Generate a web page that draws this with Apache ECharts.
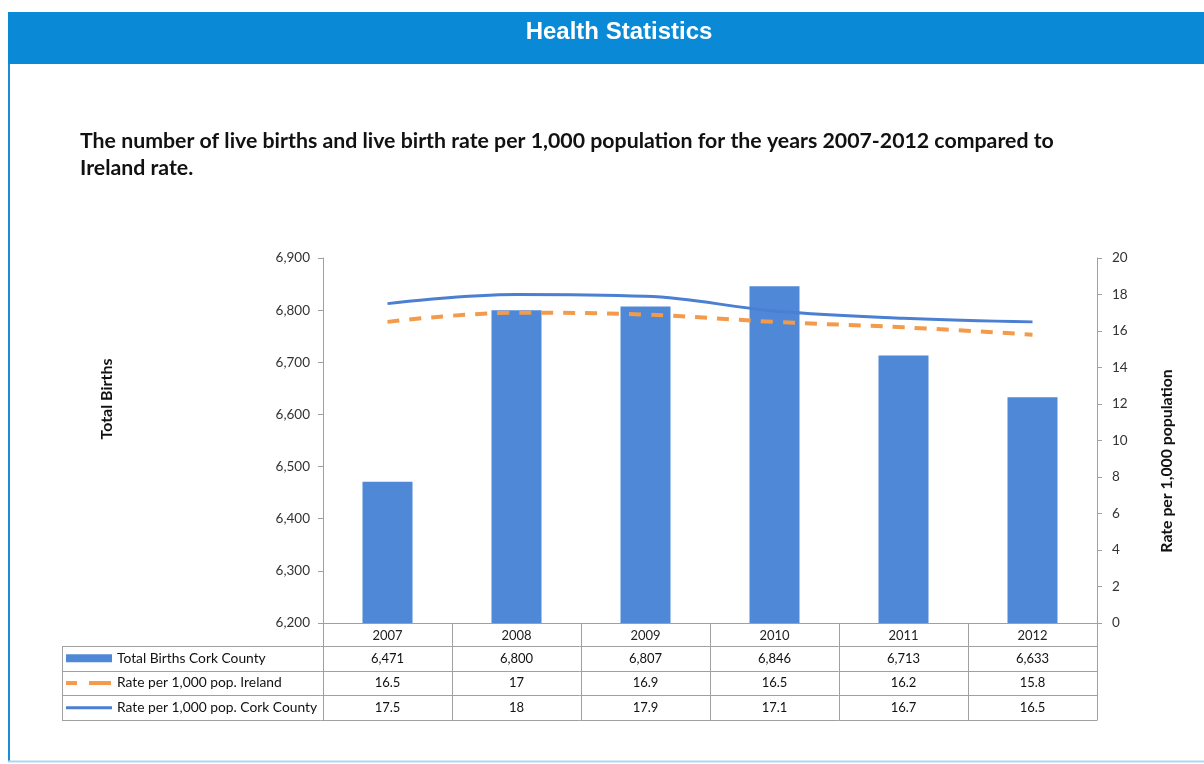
<!DOCTYPE html>
<html>
<head>
<meta charset="utf-8">
<script src="https://cdn.jsdelivr.net/npm/echarts@6/dist/echarts.min.js"></script>
<style>
  html, body { margin: 0; padding: 0; background: #ffffff; }
  #chart { width: 1204px; height: 764px; }
</style>
</head>
<body>
<div id="chart"></div>
<script>
// Live births in Cork County and birth rates, 2007-2012
const years = ['2007', '2008', '2009', '2010', '2011', '2012'];
const totalBirthsCork = [6471, 6800, 6807, 6846, 6713, 6633];
const rateIreland = [16.5, 17, 16.9, 16.5, 16.2, 15.8];
const rateCork = [17.5, 18, 17.9, 17.1, 16.7, 16.5];

const seriesNames = ['Total Births Cork County', 'Rate per 1,000 pop. Ireland', 'Rate per 1,000 pop. Cork County'];

const BAR_COLOR = '#4f88d6';
const IRL_COLOR = '#f39a4b';
const CORK_COLOR = '#4a7fd2';
const GRID_LINE = '#a0a0a0';
const FONT = 'Lato, "Open Sans", sans-serif';

const chart = echarts.init(document.getElementById('chart'), null, { renderer: 'canvas' });

const fmt = v => v.toLocaleString('en-US');

chart.setOption({
  backgroundColor: '#ffffff',
  animation: false,
  grid: { left: 323, right: 107, top: 258, bottom: 141 },
  xAxis: {
    type: 'category',
    data: years,
    boundaryGap: true,
    axisLine: { lineStyle: { color: GRID_LINE, width: 1 } },
    axisTick: { show: false },
    axisLabel: { color: '#222', fontSize: 13, fontFamily: FONT, margin: 6 }
  },
  yAxis: [
    {
      type: 'value', min: 6200, max: 6900, interval: 100,
      axisLine: { show: true, lineStyle: { color: GRID_LINE } },
      axisTick: { show: true, length: 5, lineStyle: { color: GRID_LINE } },
      splitLine: { show: false },
      axisLabel: { color: '#333', fontSize: 13.5, fontFamily: FONT, margin: 13, formatter: v => fmt(v) }
    },
    {
      type: 'value', min: 0, max: 20, interval: 2,
      axisLine: { show: true, lineStyle: { color: GRID_LINE } },
      axisTick: { show: true, length: 5, lineStyle: { color: GRID_LINE } },
      splitLine: { show: false },
      axisLabel: { color: '#333', fontSize: 13.5, fontFamily: FONT, margin: 15 }
    }
  ],
  series: [
    {
      name: seriesNames[0], type: 'bar', yAxisIndex: 0,
      data: totalBirthsCork, barWidth: 50,
      itemStyle: { color: BAR_COLOR }
    },
    {
      name: seriesNames[1], type: 'line', yAxisIndex: 1,
      data: rateIreland, smooth: 0.4, showSymbol: false,
      lineStyle: { color: IRL_COLOR, width: 4, type: [12, 10] }, z: 4
    },
    {
      name: seriesNames[2], type: 'line', yAxisIndex: 1,
      data: rateCork, smooth: 0.4, showSymbol: false,
      lineStyle: { color: CORK_COLOR, width: 3 }, z: 5
    }
  ]
});

// Page frame, heading, axis titles and the data table underneath the plot
function buildGraphics() {
  const g = [];
  // header band
  g.push({ type: 'rect', shape: { x: 8, y: 12, width: 1196, height: 52 }, style: { fill: '#0a8ad6' }, silent: true });
  g.push({ type: 'text', x: 619, y: 32, style: { text: 'Health Statistics', fill: '#ffffff', font: 'bold 24px "Liberation Sans", Arial, sans-serif', textAlign: 'center', textVerticalAlign: 'middle' } });
  // frame lines
  g.push({ type: 'line', shape: { x1: 9, y1: 64, x2: 9, y2: 762 }, style: { stroke: '#1b8bd6', lineWidth: 2 } });
  g.push({ type: 'line', shape: { x1: 8, y1: 761.5, x2: 1204, y2: 761.5 }, style: { stroke: '#a9d8f2', lineWidth: 2 } });
  // subtitle
  g.push({ type: 'text', x: 80, y: 128, style: { text: 'The number of live births and live birth rate per 1,000 population for the years 2007-2012 compared to\nIreland rate.', fill: '#111', font: 'bold 21.3px ' + FONT, lineHeight: 27 } });
  // axis names
  g.push({ type: 'text', x: 107, y: 399, rotation: Math.PI / 2, style: { text: 'Total Births', fill: '#111', font: 'bold 16px ' + FONT, textAlign: 'center', textVerticalAlign: 'middle' } });
  g.push({ type: 'text', x: 1167, y: 461, rotation: Math.PI / 2, style: { text: 'Rate per 1,000 population', fill: '#111', font: 'bold 15.8px ' + FONT, textAlign: 'center', textVerticalAlign: 'middle' } });

  // table geometry from the axes
  const centers = years.map((y, i) => chart.convertToPixel({ xAxisIndex: 0 }, i));
  const band = centers.length > 1 ? centers[1] - centers[0] : 129;
  const left = centers[0] - band / 2;
  const right = centers[centers.length - 1] + band / 2;
  const axisY = chart.convertToPixel({ yAxisIndex: 0 }, 6200);
  const yearRowH = 23;
  const rowH = 24.7;
  const legendLeft = 62;
  const tableTop = axisY + yearRowH;
  const tableBottom = tableTop + rowH * 3;
  const line = (x1, y1, x2, y2) => g.push({ type: 'line', shape: { x1, y1, x2, y2 }, style: { stroke: GRID_LINE, lineWidth: 1 }, silent: true });

  // horizontal rules
  for (let r = 0; r <= 3; r++) {
    const y = Math.round(tableTop + rowH * r) + 0.5;
    line(legendLeft, y, right, y);
  }
  // vertical rules of the year columns
  for (let c = 0; c <= years.length; c++) {
    const x = Math.round(left + band * c) + 0.5;
    line(x, axisY, x, Math.round(tableBottom) + 0.5);
  }
  line(legendLeft + 0.5, Math.round(tableTop) + 0.5, legendLeft + 0.5, Math.round(tableBottom) + 0.5);

  // row contents
  const rows = [totalBirthsCork.map(fmt), rateIreland.map(String), rateCork.map(String)];
  rows.forEach((vals, r) => {
    const cy = tableTop + rowH * r + rowH / 2;
    vals.forEach((v, i) => {
      g.push({ type: 'text', x: centers[i], y: cy, style: { text: v, fill: '#111', font: '13px ' + FONT, textAlign: 'center', textVerticalAlign: 'middle' } });
    });
    // legend key
    if (r === 0) {
      g.push({ type: 'rect', shape: { x: 66, y: cy - 4, width: 46, height: 8 }, style: { fill: BAR_COLOR } });
    } else if (r === 1) {
      g.push({ type: 'line', shape: { x1: 66, y1: cy, x2: 77, y2: cy }, style: { stroke: IRL_COLOR, lineWidth: 4 } });
      g.push({ type: 'line', shape: { x1: 89, y1: cy, x2: 111, y2: cy }, style: { stroke: IRL_COLOR, lineWidth: 4 } });
    } else {
      g.push({ type: 'line', shape: { x1: 66, y1: cy, x2: 112, y2: cy }, style: { stroke: CORK_COLOR, lineWidth: 3 } });
    }
    g.push({ type: 'text', x: 117, y: cy, style: { text: seriesNames[r], fill: '#111', font: '13.8px ' + FONT, textAlign: 'left', textVerticalAlign: 'middle' } });
  });

  chart.setOption({ graphic: g });
}

buildGraphics();
</script>
</body>
</html>
